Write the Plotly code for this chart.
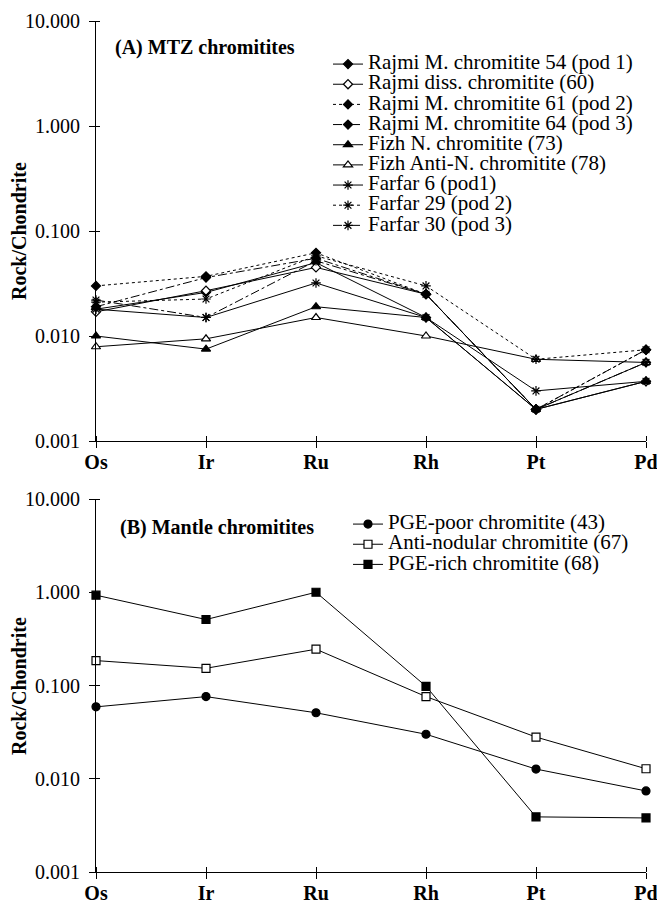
import plotly.graph_objects as go

# ---------------- data ----------------
elements = ["Os", "Ir", "Ru", "Rh", "Pt", "Pd"]

# (A) MTZ chromitites
rajmi_54 = [0.018, 0.026, 0.050, 0.015, 0.0020, 0.0056]
rajmi_60 = [0.017, 0.027, 0.045, 0.025, 0.0020, 0.0037]
rajmi_61 = [0.030, 0.037, 0.062, 0.025, 0.0020, 0.0074]
rajmi_64 = [0.019, 0.036, 0.055, 0.025, 0.0020, 0.0074]
fizh_73 = [0.010, 0.0075, 0.019, 0.015, 0.0020, 0.0037]
fizh_78 = [0.0079, 0.0094, 0.015, 0.010, 0.0060, 0.0056]
farfar_6 = [0.018, 0.015, 0.032, 0.015, 0.0030, 0.0037]
farfar_29 = [0.021, 0.0225, 0.058, 0.030, 0.0060, 0.0074]
farfar_30 = [0.022, 0.015, 0.052, 0.025, 0.0020, 0.0056]

# (B) Mantle chromitites
pge_poor = [0.059, 0.076, 0.051, 0.030, 0.0127, 0.0074]
anti_nodular = [0.185, 0.153, 0.245, 0.076, 0.028, 0.0128]
pge_rich = [0.93, 0.51, 1.0, 0.098, 0.0039, 0.0038]

y_tick_vals = [0.001, 0.01, 0.1, 1, 10]
y_tick_text = ["0.001", "0.010", "0.100", "1.000", "10.000"]

# ---------------- figure ----------------
SERIF = "Liberation Serif, Times New Roman, serif"
xs = list(range(len(elements)))

top_series = [
    ("Rajmi M. chromitite 54 (pod 1)", rajmi_54, "solid", "diamond", "black", 7),
    ("Rajmi diss. chromitite (60)", rajmi_60, "solid", "diamond", "white", 7),
    ("Rajmi M. chromitite 61 (pod 2)", rajmi_61, "dot", "diamond", "black", 7),
    ("Rajmi M. chromitite 64 (pod 3)", rajmi_64, "dashdot", "diamond", "black", 7),
    ("Fizh N. chromitite (73)", fizh_73, "solid", "triangle-up", "black", 8),
    ("Fizh Anti-N. chromitite (78)", fizh_78, "solid", "triangle-up", "white", 8),
    ("Farfar 6 (pod1)", farfar_6, "solid", "asterisk-open", "black", 8),
    ("Farfar 29 (pod 2)", farfar_29, "dot", "asterisk-open", "black", 8),
    ("Farfar 30 (pod 3)", farfar_30, "dashdot", "asterisk-open", "black", 8),
]

bottom_series = [
    ("PGE-poor chromitite (43)", pge_poor, "circle", "black"),
    ("Anti-nodular chromitite (67)", anti_nodular, "square", "white"),
    ("PGE-rich chromitite (68)", pge_rich, "square", "black"),
]

LEG_TXT = '<span style="font-size:21px">{}</span>'

fig = go.Figure()
for name, vals, dash, sym, fill, size in top_series:
    fig.add_trace(go.Scatter(
        x=xs, y=vals, mode="lines+markers", name=LEG_TXT.format(name),
        line=dict(color="black", width=1, dash=dash),
        marker=dict(symbol=sym, size=size, color=fill,
                    line=dict(color="black", width=1.2)),
        xaxis="x", yaxis="y", legend="legend", cliponaxis=False,
    ))

for name, vals, sym, fill in bottom_series:
    fig.add_trace(go.Scatter(
        x=xs, y=vals, mode="lines+markers", name=LEG_TXT.format(name),
        line=dict(color="black", width=1),
        marker=dict(symbol=sym, size=8, color=fill,
                    line=dict(color="black", width=1.2)),
        xaxis="x2", yaxis="y2", legend="legend2", cliponaxis=False,
    ))

# The page body adds an 8px offset; lay out in screen pixels and compensate.
OFF = 8
W, H = 665 - OFF, 906 - OFF
ML = 96 - OFF
MT = 21 - OFF
MB = H - (872 - OFF)
MR = W - (646 - OFF)
PW, PH = W - ML - MR, H - MT - MB


def px_x(p):
    return (p - OFF - ML) / PW


def px_y(p):
    return (H - MB - (p - OFF)) / PH


eps_x = 1e-6
xaxis_common = dict(
    range=[0, len(elements) - 1], tickmode="array", tickvals=xs, ticktext=elements,
    showgrid=False, zeroline=False, showline=True, linecolor="black", linewidth=1,
    ticks="outside", ticklen=6, tickwidth=1, tickcolor="black",
    tickfont=dict(family=SERIF, size=20, color="black", weight="bold"),
    ticklabelstandoff=-3, automargin=False,
    minor=dict(tickmode="array", tickvals=[v + eps_x for v in xs], ticks="inside",
               ticklen=5, tickwidth=1, tickcolor="black", showgrid=False),
)
yaxis_common = dict(
    type="log", range=[-3, 1], tickmode="array", tickvals=y_tick_vals, ticktext=y_tick_text,
    showgrid=False, zeroline=False, showline=True, linecolor="black", linewidth=1,
    ticks="outside", ticklen=6, tickwidth=1, tickcolor="black",
    tickfont=dict(family=SERIF, size=20, color="black"),
    ticklabelstandoff=5, automargin=False,
    minor=dict(tickmode="array", tickvals=[v * 1.00001 for v in y_tick_vals], ticks="inside",
               ticklen=4, tickwidth=1, tickcolor="black", showgrid=False),
)

title_font = dict(family=SERIF, size=20, color="black", weight="bold")

fig.update_layout(
    width=W, height=H,
    margin=dict(l=ML, r=MR, t=MT, b=MB, autoexpand=False),
    paper_bgcolor="white", plot_bgcolor="white",
    font=dict(family=SERIF, color="black"),
    xaxis=dict(domain=[0, 1], anchor="y", **xaxis_common),
    yaxis=dict(domain=[px_y(441), 1], anchor="x", **yaxis_common),
    xaxis2=dict(domain=[0, 1], anchor="y2", **xaxis_common),
    yaxis2=dict(domain=[0, px_y(499)], anchor="x2", **yaxis_common),
    legend=dict(x=px_x(328), y=px_y(49), xanchor="left", yanchor="top",
                bgcolor="rgba(0,0,0,0)", borderwidth=0,
                font=dict(family=SERIF, size=13.2, color="black"),
                itemwidth=30, tracegroupgap=0),
    legend2=dict(x=px_x(348), y=px_y(509), xanchor="left", yanchor="top",
                 bgcolor="rgba(0,0,0,0)", borderwidth=0,
                 font=dict(family=SERIF, size=13.2, color="black"),
                 itemwidth=30, tracegroupgap=0),
    annotations=[
        dict(text="(A) MTZ chromitites", xref="paper", yref="paper",
             x=px_x(113), y=px_y(48), xanchor="left", yanchor="middle", showarrow=False,
             font=title_font),
        dict(text="(B) Mantle chromitites", xref="paper", yref="paper",
             x=px_x(118), y=px_y(527), xanchor="left", yanchor="middle", showarrow=False,
             font=title_font),
        dict(text="Rock/Chondrite", xref="paper", yref="paper", textangle=-90,
             x=px_x(19), y=px_y(231), xanchor="center", yanchor="middle", showarrow=False,
             font=title_font),
        dict(text="Rock/Chondrite", xref="paper", yref="paper", textangle=-90,
             x=px_x(19), y=px_y(686), xanchor="center", yanchor="middle", showarrow=False,
             font=title_font),
    ],
)

fig.write_html("out.html")
